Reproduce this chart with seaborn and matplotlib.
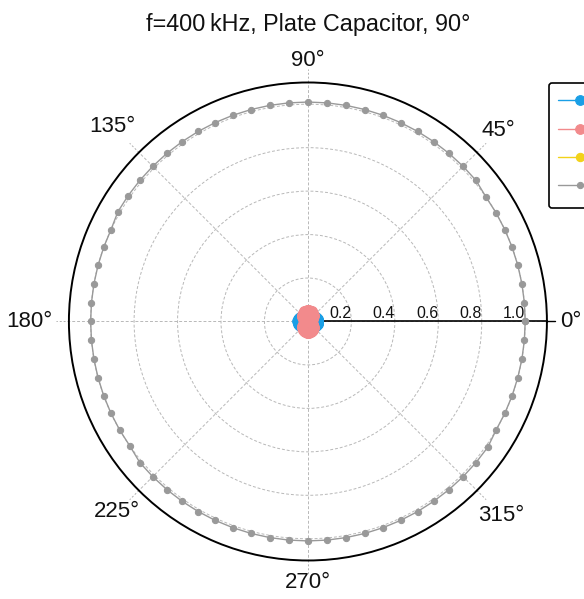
import numpy as np
import pandas as pd
import matplotlib
matplotlib.use('Agg')
import matplotlib.pyplot as plt
import seaborn as sns

# winkel in grad, 5 grad schritte
angles_deg = list(range(0, 360, 5))

# blau: horizontale keule (klein, nahe zentrum)
q1_blue = [.048, .048, .047, .046, .045, .043, .042, .039, .037, .034, .031, .028, .024, .020, .016, .012, .008, .004]
q2_blue = [.000, .004, .008, .012, .016, .020, .024, .028, .031, .034, .037, .039, .042, .043, .045, .046, .047, .048]
blue_r = q1_blue + q2_blue + q1_blue + q2_blue

# rot: vertikale keule
q1_red = [.000, .005, .009, .014, .018, .022, .026, .030, .033, .037, .040, .043, .045, .047, .049, .050, .051, .052]
q2_red = [.052, .052, .051, .050, .049, .047, .045, .043, .040, .037, .033, .030, .026, .022, .018, .014, .009, .005]
red_r = q1_red + q2_red + q1_red + q2_red

# gelb: liegt unter rot, kaum sichtbar
q1_yel = [.000, .003, .005, .007, .009, .011, .013, .015, .016, .018, .020, .021, .022, .023, .024, .025, .025, .026]
q2_yel = [.026, .026, .025, .025, .024, .023, .022, .021, .020, .018, .016, .015, .013, .011, .009, .007, .005, .003]
yel_r = q1_yel + q2_yel + q1_yel + q2_yel

# grau: nahezu kreis bei r ~ 1.0
gray_r = [1.00, 1.00, 1.00, 1.00, 1.00, 1.00, 1.00, 1.00, 1.01, 1.01, 1.01, 1.01, 1.01, 1.01, 1.01, 1.01, 1.01, 1.01,
          1.01, 1.01, 1.01, 1.01, 1.01, 1.01, 1.01, 1.01, 1.01, 1.01, 1.01, 1.01, 1.01, 1.00, 1.00, 1.00, 1.00, 1.00,
          1.00, 1.00, 1.00, 1.00, 1.00, 1.00, 1.00, 1.00, 1.01, 1.01, 1.01, 1.01, 1.01, 1.01, 1.01, 1.01, 1.01, 1.01,
          1.01, 1.01, 1.01, 1.01, 1.01, 1.01, 1.01, 1.01, 1.01, 1.01, 1.01, 1.01, 1.00, 1.00, 1.00, 1.00, 1.00, 1.00]

series_names = ["x", "y", "z", "ref"]
series_vals = [blue_r, red_r, yel_r, gray_r]
colors = ["#1a9fe6", "#f28a8c", "#f2d21a", "#999999"]

# winkelbeschriftungen
theta_ticks = [0, 45, 90, 135, 180, 225, 270, 315]
theta_labels = ["0°", "45°", "90°", "135°", "180°", "225°", "270°", "315°"]
label_r = [1.21, 1.24, 1.20, 1.27, 1.28, 1.24, 1.20, 1.26]

rows = []
for name, vals in zip(series_names, series_vals):
    th = np.deg2rad(angles_deg + [angles_deg[0]])
    rr = list(vals) + [vals[0]]
    for t, r in zip(th, rr):
        rows.append({"series": name, "theta": t, "r": r})
df = pd.DataFrame(rows)

sns.set_style("white")
plt.rcParams['font.family'] = ['Liberation Sans', 'DejaVu Sans']

fig = plt.figure(figsize=(5.84, 5.99), dpi=100)
ax = fig.add_axes([0.118, 0.0643, 0.8185, 0.798], projection='polar')

zorders = {"x": 4, "y": 5, "z": 3, "ref": 6}
sizes = {"x": 7, "y": 7, "z": 6, "ref": 4.5}
for name, col in zip(series_names, colors):
    sub = df[df["series"] == name]
    sns.lineplot(data=sub, x="theta", y="r", sort=False, estimator=None, ax=ax,
                 color=col, marker='o', markersize=sizes[name], markeredgecolor=col,
                 linewidth=1.0, label=name, zorder=zorders[name])

ax.set_ylim(0, 1.1)
ax.set_rticks([0.2, 0.4, 0.6, 0.8, 1.0])
ax.set_yticklabels(["0.2", "0.4", "0.6", "0.8", "1.0"], fontsize=11.5, color='#111111')
ax.set_rlabel_position(0)
for lbl in ax.get_yticklabels():
    lbl.set_horizontalalignment('right')
    lbl.set_verticalalignment('bottom')

ax.set_xticks(np.deg2rad(theta_ticks))
ax.set_xticklabels([])
ax.set_xlabel("")
ax.set_ylabel("")
for d, txt, rl in zip(theta_ticks, theta_labels, label_r):
    ax.text(np.deg2rad(d), rl, txt, fontsize=16, ha='center', va='center',
            color='#111111', clip_on=False)
    if d != 0:
        # gitterlinie ragt etwas ueber den rand hinaus
        ax.plot([np.deg2rad(d)] * 2, [1.1, 1.16], color="#b0b0b0",
                linestyle=(0, (2, 2)), linewidth=0.7, clip_on=False)

ax.grid(True, color="#b8b8b8", linestyle=(0, (3, 2)), linewidth=0.7)
ax.spines['polar'].set_color('black')
ax.spines['polar'].set_linewidth(1.4)

# radiale achse bei 0 grad
ax.plot([0, 0], [0, 1.1], color='black', linewidth=1.2, zorder=2)
ax.plot([0, 0], [1.1, 1.135], color='black', linewidth=1.0, clip_on=False, zorder=2)

fig.suptitle("f=400\u2009kHz, Plate Capacitor, 90°", fontsize=16.8, x=0.527, y=0.978,
             color='#111111')

leg = ax.legend(loc='upper left', bbox_to_anchor=(549 / 584, 1 - 83 / 599),
                bbox_transform=fig.transFigure, fontsize=12, labelspacing=0.42,
                borderpad=0.55, handlelength=2.6, handleheight=1.6, borderaxespad=0,
                frameon=True, fancybox=True, edgecolor='black', framealpha=1)
leg.get_frame().set_linewidth(1.2)

fig.savefig("out.png", dpi=100)
